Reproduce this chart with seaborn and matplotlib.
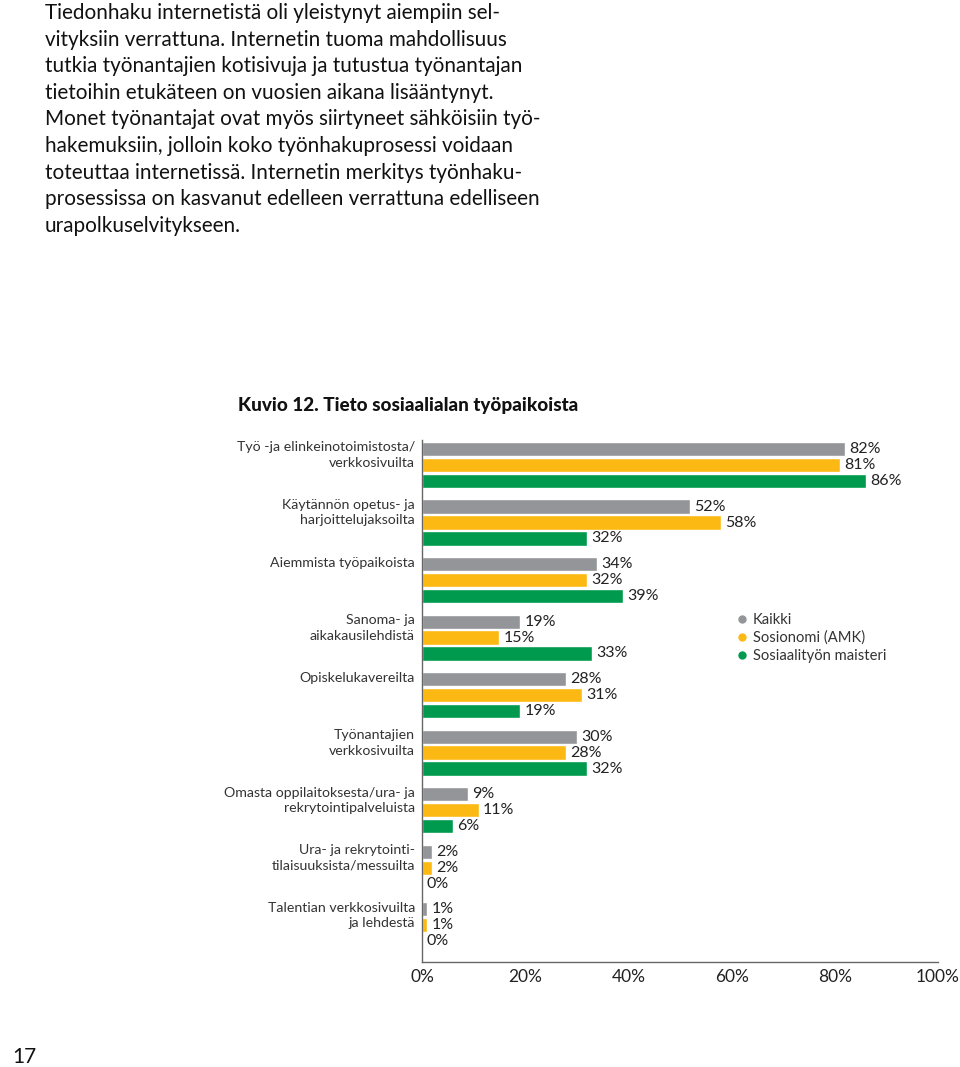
import matplotlib
matplotlib.use("Agg")
import matplotlib.pyplot as plt
from matplotlib.lines import Line2D
import seaborn as sns
import pandas as pd

categories = [
    "Työ -ja elinkeinotoimistosta/\nverkkosivuilta",
    "Käytännön opetus- ja\nharjoittelujaksoilta",
    "Aiemmista työpaikoista",
    "Sanoma- ja\naikakausilehdistä",
    "Opiskelukavereilta",
    "Työnantajien\nverkkosivuilta",
    "Omasta oppilaitoksesta/ura- ja\nrekrytointipalveluista",
    "Ura- ja rekrytointi-\ntilaisuuksista/messuilta",
    "Talentian verkkosivuilta\nja lehdestä",
]
series = ["Kaikki", "Sosionomi (AMK)", "Sosiaalityön maisteri"]
kaikki = [82, 52, 34, 19, 28, 30, 9, 2, 1]
sosionomi = [81, 58, 32, 15, 31, 28, 11, 2, 1]
maisteri = [86, 32, 39, 33, 19, 32, 6, 0, 0]
colors = ["#939598", "#FDB913", "#009A4E"]
xticks = [0, 20, 40, 60, 80, 100]

paragraph = [
    "Tiedonhaku internetistä oli yleistynyt aiempiin sel-",
    "vityksiin verrattuna. Internetin tuoma mahdollisuus",
    "tutkia työnantajien kotisivuja ja tutustua työnantajan",
    "tietoihin etukäteen on vuosien aikana lisääntynyt.",
    "Monet työnantajat ovat myös siirtyneet sähköisiin työ-",
    "hakemuksiin, jolloin koko työnhakuprosessi voidaan",
    "toteuttaa internetissä. Internetin merkitys työnhaku-",
    "prosessissa on kasvanut edelleen verrattuna edelliseen",
    "urapolkuselvitykseen.",
]

rows = []
for s, vals in zip(series, [kaikki, sosionomi, maisteri]):
    for c, v in zip(categories, vals):
        rows.append({"cat": c, "series": s, "value": v})
df = pd.DataFrame(rows)

sns.set_theme(style="white")
plt.rcParams["font.family"] = ["Lato", "DejaVu Sans"]

TXT = "#222222"
W, H = 960, 1067
fig = plt.figure(figsize=(9.6, 10.67), dpi=100)
ax = fig.add_axes([422 / W, 1 - 962 / H, (938 - 422) / W, (962 - 440) / H])

sns.barplot(data=df, y="cat", x="value", hue="series", order=categories,
            hue_order=series, palette=colors, orient="h", width=0.83, gap=0.1,
            saturation=1, ax=ax, legend=False)

ax.set_xlim(0, 100)
ax.set_ylim(8.64, -0.435)
ax.set_xlabel("")
ax.set_ylabel("")
ax.set_xticks(xticks)
ax.set_xticklabels([f"{t}%" for t in xticks], fontsize=12.5, color=TXT)
ax.set_yticks([])
ax.tick_params(axis="x", direction="in", length=9, width=1, color="#666666", pad=5)
for sp in ["top", "right"]:
    ax.spines[sp].set_visible(False)
for sp in ["left", "bottom"]:
    ax.spines[sp].set_color("#666666")
    ax.spines[sp].set_linewidth(1)

for cont in ax.containers:
    ax.bar_label(cont, fmt="{:.0f}%", padding=3, fontsize=11.5, color=TXT)

# category labels, aligned to the top of each group
step = 0.83 / 3
for i, c in enumerate(categories):
    top = i - 0.83 / 2 + step * 0.02
    ax.annotate(c, xy=(0, top), xycoords=("axes fraction", "data"),
                xytext=(-5, 0), textcoords="offset points",
                ha="right", va="top", fontsize=10.2, color="#333333",
                linespacing=1.35)

# legend
handles = [Line2D([0], [0], marker="o", linestyle="", markersize=5,
                  markerfacecolor=col, markeredgecolor=col) for col in colors]
fig.legend(handles, series, loc="upper left",
           bbox_to_anchor=(733 / W, 1 - 613 / H), frameon=False,
           fontsize=10.6, handletextpad=0.15, handlelength=1.2,
           labelspacing=0.25, borderaxespad=0, borderpad=0,
           labelcolor="#333333")

# title
fig.text(238 / W, 1 - 405 / H, "Kuvio 12. Tieto sosiaalialan työpaikoista",
         fontsize=13.6, fontweight="black", va="center", ha="left", color="#111111")

# paragraph
for k, line in enumerate(paragraph):
    fig.text(45 / W, 1 - (13 + 26.6 * k) / H, line, fontsize=14.9,
             va="center", ha="left", color="#111111")

fig.text(12 / W, 1 - 1057 / H, "17", fontsize=15, va="center", ha="left",
         color="#111111")

fig.savefig("out.png", dpi=100)
